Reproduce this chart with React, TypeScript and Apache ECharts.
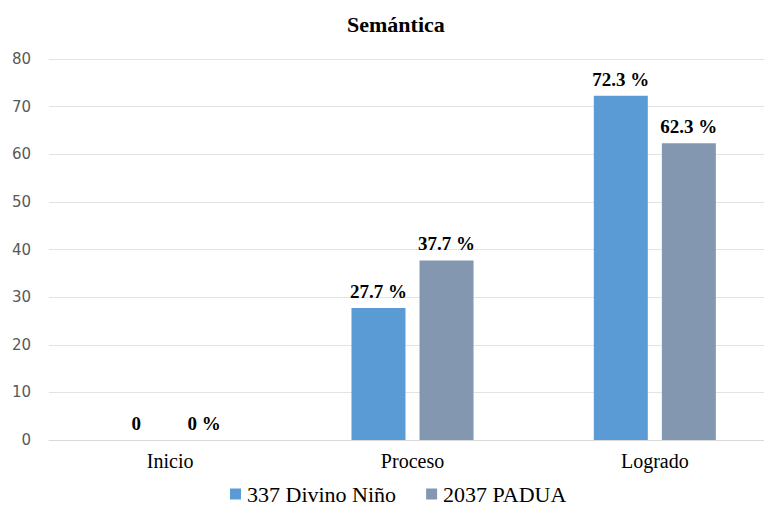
import React, { useEffect, useRef } from "react";
import * as echarts from "echarts";

const categories = ["Inicio", "Proceso", "Logrado"];
const seriesNames = ["337 Divino Ni\u00f1o", "2037 PADUA"];
const divinoNino = [0, 27.7, 72.3];
const padua = [0, 37.7, 62.3];
const yMax = 80;
const yInterval = 10;

const serif = "'Liberation Serif', 'Times New Roman', serif";

export default function App() {
  const ref = useRef<HTMLDivElement>(null);
  useEffect(() => {
    if (!ref.current) return;
    const chart = echarts.init(ref.current, null, { renderer: "svg" });
    const labelStyle = {
      show: true,
      position: "top",
      distance: 7,
      fontFamily: serif,
      fontWeight: "bold",
      fontSize: 19,
      color: "#000",
    };
    chart.setOption({
      animation: false,
      textStyle: { fontFamily: serif },
      title: {
        text: "Semántica",
        left: 342,
        top: 8,
        textStyle: { fontFamily: serif, fontWeight: "bold", fontSize: 22, color: "#000" },
      },
      legend: {
        bottom: 0,
        left: 225,
        padding: [0, 5, 0, 5],
        itemWidth: 11,
        itemHeight: 11,
        itemGap: 30,
        icon: "rect",
        textStyle: { fontFamily: serif, fontSize: 22, lineHeight: 20, color: "#000", padding: [0, 0, 0, 1] },
        data: seriesNames,
      },
      grid: { left: 49, width: 727, top: 59, bottom: 65, outerBoundsMode: "none", containLabel: false },
      xAxis: {
        type: "category",
        data: categories,
        axisLine: { lineStyle: { color: "#d9d9d9" } },
        axisTick: { show: false },
        axisLabel: { fontFamily: serif, fontSize: 20, color: "#000", margin: 11 },
      },
      yAxis: {
        type: "value",
        min: 0,
        max: yMax,
        interval: yInterval,
        axisLine: { show: false },
        axisTick: { show: false },
        splitLine: { lineStyle: { color: "#e3e3e3" } },
        axisLabel: { fontFamily: "DejaVu Sans", fontSize: 15, color: "#595959", margin: 18 },
      },
      series: [
        {
          name: seriesNames[0],
          type: "bar",
          data: divinoNino,
          barWidth: 54,
          barGap: "26%",
          itemStyle: { color: "#5B9BD5" },
          label: { ...labelStyle, formatter: (p: any) => (p.value === 0 ? "0" : `${p.value} %`) },
        },
        {
          name: seriesNames[1],
          type: "bar",
          data: padua,
          barWidth: 54,
          barGap: "26%",
          itemStyle: { color: "#8497B0" },
          label: { ...labelStyle, formatter: (p: any) => `${p.value} %` },
        },
      ],
    });
    return () => chart.dispose();
  }, []);
  return (
    <div
      ref={ref}
      style={{ position: "fixed", left: 0, top: 0, width: 764, height: 505, background: "#fff" }}
    />
  );
}
